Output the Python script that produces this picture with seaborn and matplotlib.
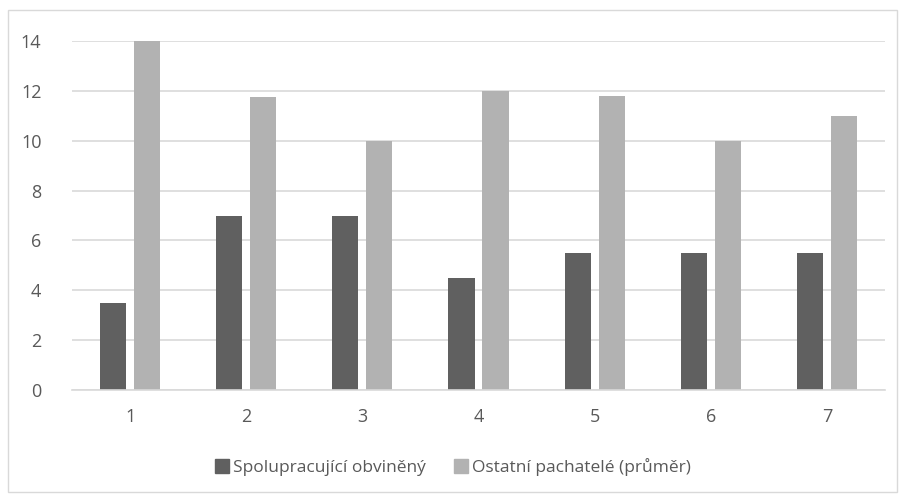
import pandas as pd
import seaborn as sns
import matplotlib.pyplot as plt
from matplotlib.patches import Rectangle

categories = ["1", "2", "3", "4", "5", "6", "7"]
spolupracujici = [3.5, 7, 7, 4.5, 5.5, 5.5, 5.5]
ostatni = [14, 11.75, 10, 12, 11.8, 10, 11]
series_names = ["Spolupracující obviněný", "Ostatní pachatelé (průměr)"]

df = pd.DataFrame({
    "kat": categories * 2,
    "hodnota": spolupracujici + ostatni,
    "serie": [series_names[0]] * 7 + [series_names[1]] * 7,
})

sns.set_style("white")
plt.rcParams['font.family'] = ['Open Sans', 'DejaVu Sans']
text_col = "#595959"

fig = plt.figure(figsize=(9.06, 5.01), dpi=100)
ax = fig.add_axes([72 / 906, 1 - 390 / 501, 813 / 906, 349 / 501])

sns.barplot(data=df, x="kat", y="hodnota", hue="serie", order=categories,
            hue_order=series_names, palette=["#606060", "#b2b2b2"],
            width=0.586, gap=0.235, ax=ax, legend=False, saturation=1,
            linewidth=0)

ax.set_ylim(0, 14)
ax.set_yticks(range(0, 15, 2))
ax.set_xlim(-0.5, 6.5)
ax.grid(axis="y", color="#d9d9d9", linewidth=1.2)
ax.set_axisbelow(True)
for s in ["top", "right", "left"]:
    ax.spines[s].set_visible(False)
ax.spines["bottom"].set_color("#d9d9d9")
ax.spines["bottom"].set_linewidth(1.2)
ax.set_xlabel("")
ax.set_ylabel("")
ax.tick_params(axis="both", length=0, labelsize=13, labelcolor=text_col)
ax.tick_params(axis="x", pad=13)
ax.tick_params(axis="y", pad=22)

handles = [Rectangle((0, 0), 1, 1, color=c) for c in ["#606060", "#b2b2b2"]]
fig.legend(handles, series_names, loc="center", bbox_to_anchor=(0.5, 1 - 467 / 501),
           ncol=2, frameon=False, fontsize=12.5, labelcolor=text_col,
           handlelength=0.8, handleheight=0.8, handletextpad=0.25, columnspacing=1.6)

fig.patches.append(Rectangle((8 / 906, 1 - 492 / 501), 889 / 906, 482 / 501,
                             transform=fig.transFigure, fill=False,
                             edgecolor="#d9d9d9", linewidth=1))

fig.savefig("out.png", dpi=100)
